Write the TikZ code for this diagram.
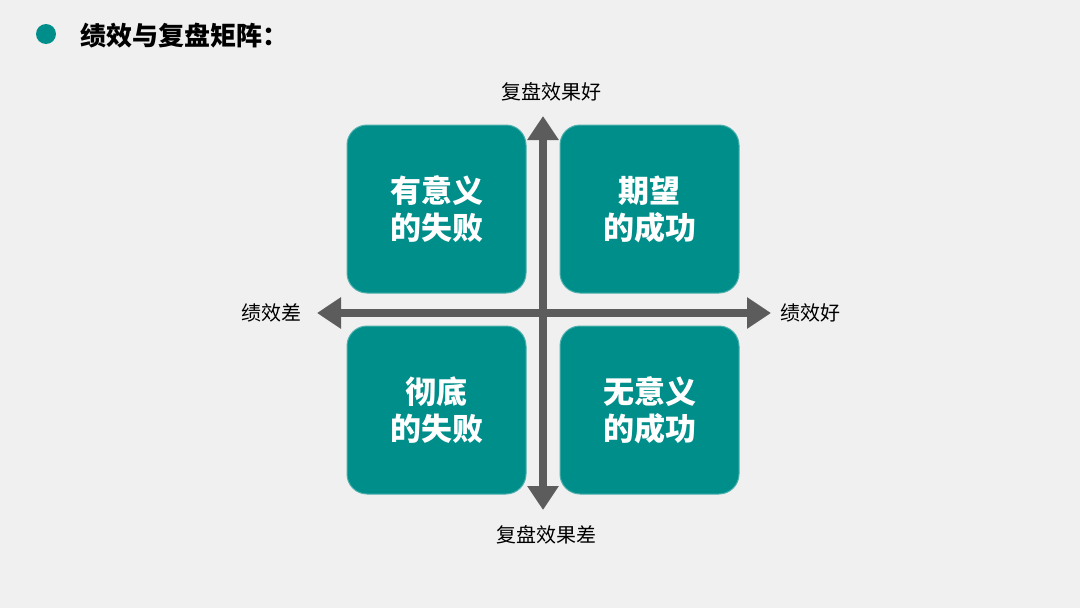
\documentclass[tikz,border=0pt]{standalone}
\usepackage{fontspec}
\usetikzlibrary{arrows.meta,positioning}
\newfontfamily\cjk{Noto Sans CJK SC}
\definecolor{MatTeal}{RGB}{0,142,138}
\definecolor{AxisGray}{RGB}{92,92,92}
\definecolor{PageGray}{RGB}{240,240,240}
\begin{document}
\begin{tikzpicture}[x=1pt,y=-1pt,font=\cjk,
  quad/.style={draw=MatTeal!70!white,line width=1pt,rounded corners=20pt,fill=MatTeal,text=white,minimum width=179pt,minimum height=168pt,align=center,font=\cjk\bfseries\fontsize{31}{37}\selectfont},
  axlabel/.style={font=\cjk\fontsize{20}{22}\selectfont,text=black},
  axis/.style={AxisGray,line width=8pt,{Triangle[width=30pt,length=24pt]}-{Triangle[width=30pt,length=24pt]}}]
\fill[PageGray] (0,0) rectangle (1080,608);\useasboundingbox (0,0) rectangle (1080,608);
% title
\fill[MatTeal] (46,34) circle (10pt);\node[anchor=west,font=\cjk\bfseries\fontsize{26}{30}\selectfont] (title) at (77,36) {绩效与复盘矩阵：};
% quadrants
\node[quad] (fail) at (436.5,209) {有意义\\的失败};\node[quad] (want) at (649.5,209) {期望\\的成功};
\node[quad] (bad) at (436.5,410) {彻底\\的失败};\node[quad] (luck) at (649.5,410) {无意义\\的成功};
% axes
\coordinate (top) at (543,116);\coordinate (bot) at (543,510);\coordinate (lft) at (317,313);\coordinate (rgt) at (771,313);
\draw[axis] (lft) -- (rgt);\draw[axis] (bot) -- (top);
\node[axlabel] (good) at (551,92) {复盘效果好};\node[axlabel] (poor) at (546,535) {复盘效果差};
\node[axlabel] (low) at (271,313) {绩效差};\node[axlabel] (high) at (810,313) {绩效好};
\end{tikzpicture}
\end{document}
